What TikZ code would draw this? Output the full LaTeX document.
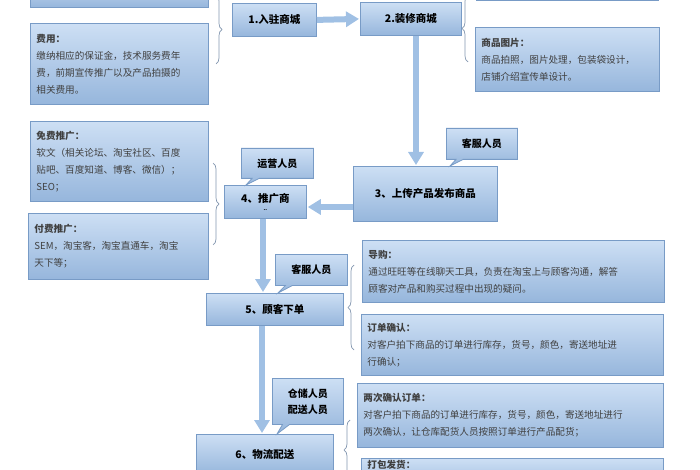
\documentclass[tikz,border=0pt]{standalone}
\usepackage{fontspec}
\setmainfont{Noto Sans CJK SC}
\usetikzlibrary{arrows.meta,shapes.callouts,decorations.pathreplacing}
\definecolor{boxtop}{RGB}{205,223,244}
\definecolor{boxbot}{RGB}{150,182,220}
\definecolor{boxline}{RGB}{120,155,198}
\definecolor{arrowfill}{RGB}{160,192,228}
\definecolor{bracecol}{RGB}{130,150,175}
\tikzset{
  stepbox/.style={draw=boxline, top color=boxtop, bottom color=boxbot, line width=0.8pt,
    anchor=north west, inner sep=0pt, align=center, font=\fontsize{10.5}{12}\selectfont\bfseries},
  infobox/.style={draw=boxline, top color=boxtop, bottom color=boxbot, line width=0.8pt,
    anchor=north west, inner xsep=6pt, inner ysep=4pt, align=left,
    font=\fontsize{9.6}{17}\selectfont, text=black!75},
  staffbox/.style={rectangle callout, draw=boxline, top color=boxtop, bottom color=boxbot,
    line width=0.8pt, anchor=north west, inner sep=0pt, align=center,
    font=\fontsize{10}{16}\selectfont\bfseries},
  flow/.style={line width=6pt, arrowfill, -{Triangle[width=15pt,length=13pt]}, shorten >=1pt},
  bracket/.style={draw=bracecol, line width=0.7pt, decorate, decoration={brace, amplitude=6pt}}
}
\begin{document}
\begin{tikzpicture}[x=1pt,y=-1pt]
  \useasboundingbox (0,0) rectangle (700,470);
  % steps
  \node[stepbox, minimum width=84pt, minimum height=33pt] (s1) at (232,3) {1.入驻商城};
  \node[stepbox, minimum width=101pt, minimum height=33pt] (s2) at (360,2) {2.装修商城};
  \node[stepbox, minimum width=144pt, minimum height=55pt] (s3) at (353,166) {3、上传产品发布商品};
  \node[stepbox, minimum width=82pt, minimum height=33pt] (s4) at (224,185) {4、推广商\\[-4pt]{\tiny ..}};
  \node[stepbox, minimum width=137pt, minimum height=32pt] (s5) at (206,293) {5、顾客下单};
  \node[stepbox, minimum width=137pt, minimum height=40pt] (s6) at (196,434) {6、物流配送};

  % details
  \node[infobox, minimum width=178pt, minimum height=30pt] (topl) at (30,-23) {};
  \node[infobox, minimum width=182pt, minimum height=20pt] (topr) at (476,-20) {};
  \node[infobox, text width=166pt, minimum height=81pt] (fee) at (30,23)
    {\textbf{费用：}\\缴纳相应的保证金，技术服务费年\\费，前期宣传推广以及产品拍摄的\\相关费用。};
  \node[infobox, text width=172pt, minimum height=64pt] (pic) at (475,27)
    {\textbf{商品图片：}\\商品拍照，图片处理，包装袋设计，\\店铺介绍宣传单设计。};
  \node[infobox, text width=166pt, minimum height=80pt] (free) at (30,121)
    {\textbf{免费推广：}\\软文（相关论坛、淘宝社区、百度\\贴吧、百度知道、博客、微信）；\\SEO；};
  \node[infobox, text width=168pt, minimum height=66pt] (paid) at (28,213)
    {\textbf{付费推广：}\\SEM，淘宝客，淘宝直通车，淘宝\\天下等；};
  \node[infobox, text width=290pt, minimum height=62pt] (guide) at (362,240)
    {\textbf{导购：}\\通过旺旺等在线聊天工具，负责在淘宝上与顾客沟通，解答\\顾客对产品和购买过程中出现的疑问。};
  \node[infobox, text width=290pt, minimum height=61pt] (confirm) at (361,314)
    {\textbf{订单确认：}\\对客户拍下商品的订单进行库存，货号，颜色，寄送地址进\\行确认；};
  \node[infobox, text width=294pt, minimum height=64pt] (again) at (357,383)
    {\textbf{两次确认订单：}\\对客户拍下商品的订单进行库存，货号，颜色，寄送地址进行\\两次确认，让仓库配货人员按照订单进行产品配货；};
  \node[infobox, text width=290pt, minimum height=30pt, inner ysep=2pt] (pack) at (361,458)
    {\textbf{打包发货：}\\\strut};

  % staff
  \node[staffbox, minimum width=71pt, minimum height=31pt,
    callout absolute pointer={(450,166)}] (c3) at (446,128) {客服人员};
  \node[staffbox, minimum width=72pt, minimum height=30pt,
    callout absolute pointer={(246,185)}] (c4) at (241,148) {运营人员};
  \node[staffbox, minimum width=72pt, minimum height=31pt,
    callout absolute pointer={(278,293)}] (c5) at (275,254) {客服人员};
  \node[staffbox, minimum width=71pt, minimum height=46pt,
    callout absolute pointer={(277,434)}] (c6) at (272,378) {仓储人员\\配送人员};

  % flow
  \draw[flow] (s1.east) -- (s2.west);
  \draw[flow] (s2.south -| 416,0) -- (s3.north -| 416,0);
  \draw[flow] (s3.west |- 0,207) -- (s4.east |- 0,207);
  \draw[flow] (s4.south -| 263,0) -- (s5.north -| 263,0);
  \draw[flow] (s5.south -| 262,0) -- (s6.north -| 262,0);
  \draw[line width=6pt, arrowfill] (s6.south -| 262,0) -- ++(0,10);

  % braces
  \draw[bracket] (216,-5) -- (216,64);
  \draw[bracket] (468,62) -- (468,-5);
  \draw[bracket] (213,163) -- (213,245);
  \draw[bracket] (354,350) -- (354,265);
  \draw[bracket] (350,480) -- (350,420);
\end{tikzpicture}
\end{document}
